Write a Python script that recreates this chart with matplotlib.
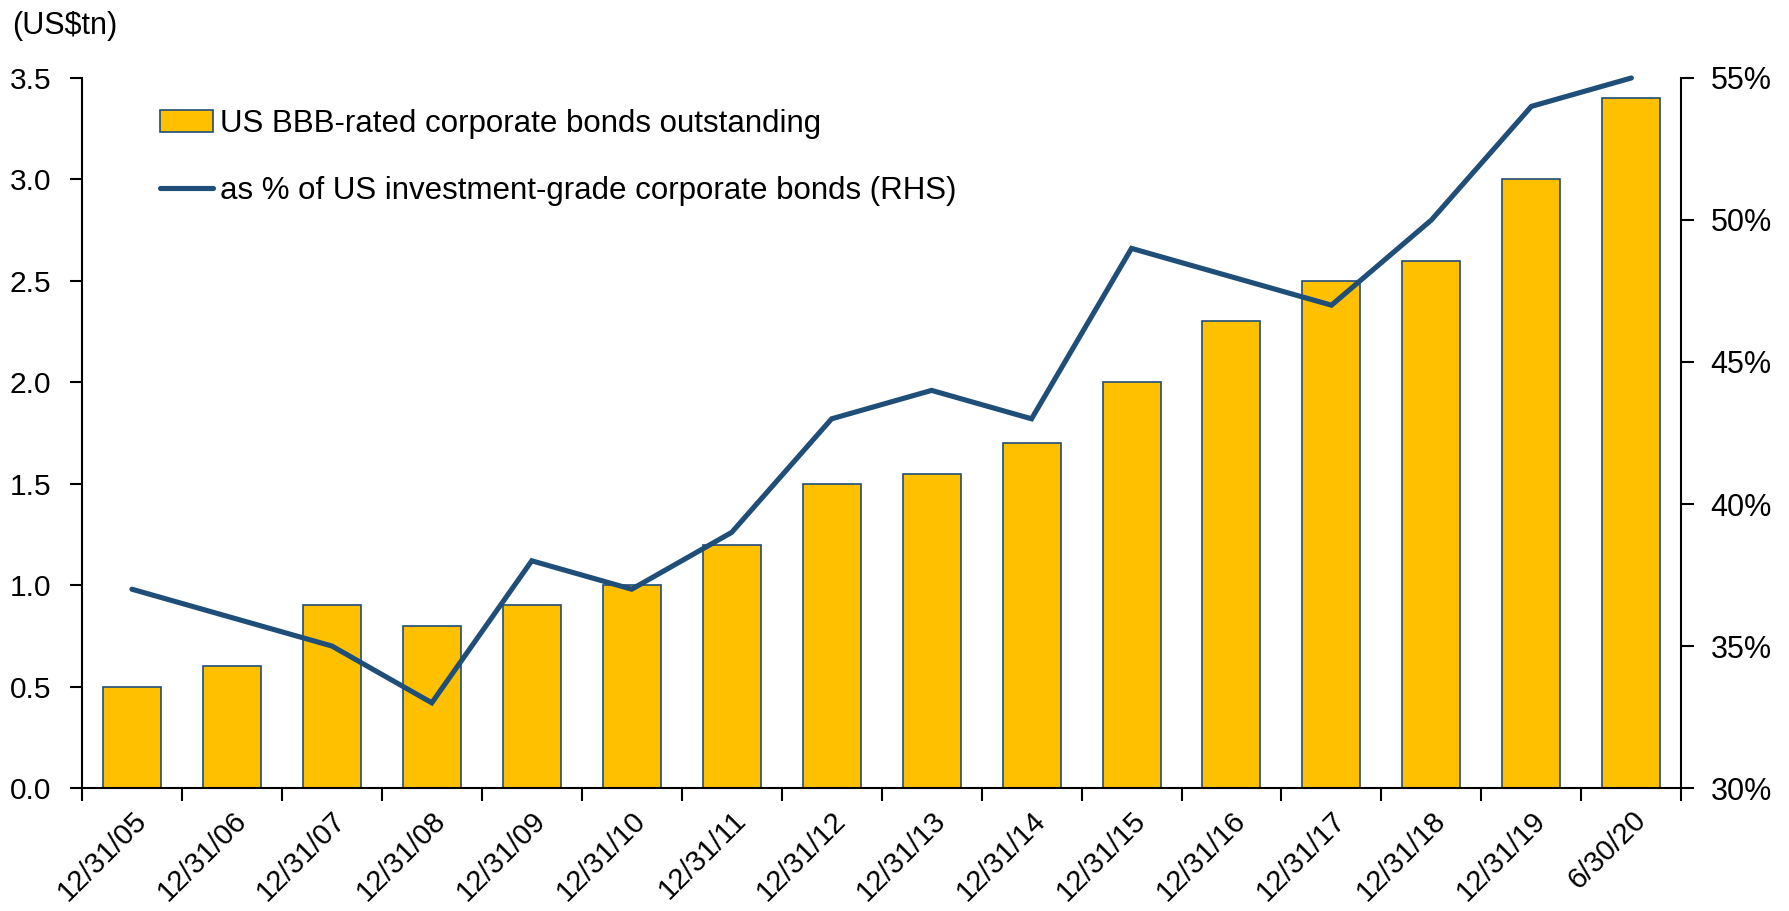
import numpy as np
import matplotlib
matplotlib.use("Agg")
import matplotlib.pyplot as plt

plt.rcParams["font.family"] = ["Liberation Sans", "DejaVu Sans"]

# --- data -------------------------------------------------------------------
dates = ["12/31/05", "12/31/06", "12/31/07", "12/31/08", "12/31/09", "12/31/10",
         "12/31/11", "12/31/12", "12/31/13", "12/31/14", "12/31/15", "12/31/16",
         "12/31/17", "12/31/18", "12/31/19", "6/30/20"]
bbb_outstanding = [0.5, 0.6, 0.9, 0.8, 0.9, 1.0, 1.2, 1.5, 1.55, 1.7,
                   2.0, 2.3, 2.5, 2.6, 3.0, 3.4]          # US$tn
bbb_share_pct = [37, 36, 35, 33, 38, 37, 39, 43, 44, 43,
                 49, 48, 47, 50, 54, 55]                  # % of IG

left_ticks = [0.0, 0.5, 1.0, 1.5, 2.0, 2.5, 3.0, 3.5]
right_ticks = [30, 35, 40, 45, 50, 55]

BAR_COLOR = "#FFC000"
LINE_COLOR = "#1F4E79"

fig = plt.figure(figsize=(17.89, 9.11), dpi=100)
ax = fig.add_axes([0.0458, 0.135, 0.894, 0.7794])
ax2 = ax.twinx()

x = np.arange(len(dates))
bars = ax.bar(x, bbb_outstanding, width=0.58, color=BAR_COLOR,
              edgecolor=LINE_COLOR, linewidth=1.2, zorder=2,
              label="US BBB-rated corporate bonds outstanding")
line, = ax2.plot(x, bbb_share_pct, color=LINE_COLOR, linewidth=3.7,
                 solid_capstyle="round", solid_joinstyle="miter",
                 zorder=3, clip_on=False,
                 label="as % of US investment-grade corporate bonds (RHS)")

ax.set_xlim(-0.5, len(dates) - 0.5)
ax.set_ylim(0, 3.5)
ax2.set_ylim(30, 55)

# category labels at the centres, tick marks at the boundaries
ax.set_xticks(x)
ax.set_xticklabels(dates, rotation=45, ha="right", va="top",
                   rotation_mode="anchor", fontsize=21)
ax.tick_params(axis="x", which="major", length=0, pad=13)
ax.set_xticks(np.arange(-0.5, len(dates)), minor=True)
ax.tick_params(axis="x", which="minor", length=9, width=1.5, direction="out")

ax.set_yticks(left_ticks)
ax.set_yticklabels([f"{v:.1f}" for v in left_ticks])
ax.tick_params(axis="y", length=9, width=1.5, labelsize=21.5, pad=13)

ax2.set_yticks(right_ticks)
ax2.set_yticklabels([f"{v}%" for v in right_ticks])
ax2.tick_params(axis="y", length=9, width=1.5, labelsize=22, pad=12)

for a in (ax, ax2):
    a.spines["top"].set_visible(False)
    for s in a.spines.values():
        s.set_linewidth(1.5)
ax.spines["right"].set_visible(False)
ax2.spines["left"].set_visible(False)
ax2.spines["bottom"].set_visible(False)

ax.set_zorder(ax2.get_zorder() - 1)
ax2.patch.set_visible(False)

fig.text(0.007, 0.972, "(US$tn)", fontsize=22, ha="left", va="center")

ax2.legend([bars, line], [bars.get_label(), line.get_label()],
           loc="upper left", bbox_to_anchor=(0.0485, 0.956), frameon=False,
           fontsize=22.5, handlelength=1.72, handletextpad=0.2,
           labelspacing=1.19, borderpad=0, borderaxespad=0)

fig.savefig("out.png", dpi=100)
